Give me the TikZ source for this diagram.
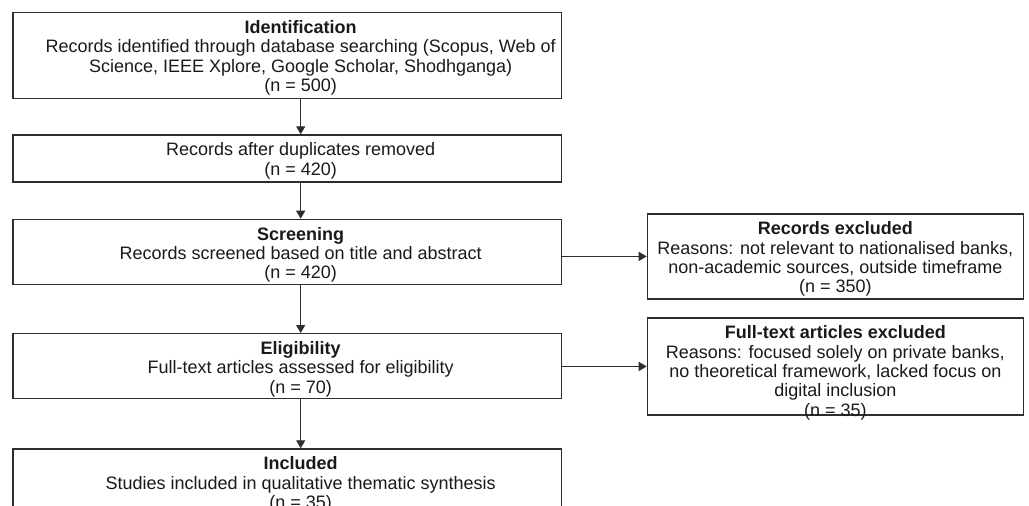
\documentclass[tikz,border=0pt]{standalone}
\usepackage{fontspec}
\setmainfont{Liberation Sans}
\usepackage{tikz}
\usetikzlibrary{arrows.meta, positioning, calc}
\definecolor{boxline}{HTML}{2E2E2E}
\definecolor{boxtext}{HTML}{1A1A1A}

% stacked lines of a stage box, first baseline on top
\newcommand{\stagetext}[1]{\begin{tabular}[t]{@{}c@{}}#1\end{tabular}}
% text of the left column sits a little right of the box centre
\newcommand{\lefttext}[1]{\hspace*{26.7pt}\stagetext{#1}}

\tikzset{
  stage/.style={draw=boxline, line width=1.3pt, inner sep=0pt, anchor=north west,
                text=boxtext, font=\fontsize{18}{19.3}\selectfont, text height=21pt},
  leftbox/.style={stage, minimum width=548.7pt},
  rightbox/.style={stage, minimum width=376pt},
  flow/.style={draw=boxline, line width=1.3pt, -{Triangle[length=8pt, width=9pt]}}
}

\begin{document}
\begin{tikzpicture}[x=1pt, y=-1pt]
  \useasboundingbox (0,0) rectangle (1029,506);
  \clip (0,0) rectangle (1029,506);
  \fill[white] (0,0) rectangle (1029,506);

  % left column
  \node[leftbox, text depth=65pt] (ident) at (12.3,12) {\lefttext{
    \textbf{Identification}\\
    Records identified through database searching (Scopus, Web of\\
    Science, IEEE Xplore, Google Scholar, Shodhganga)\\
    (n = 500)}};
  \node[leftbox, text depth=26pt] (dup) at (12.3,134.3) {\lefttext{
    Records after duplicates removed\\
    (n = 420)}};
  \node[leftbox, text depth=44pt] (screen) at (12.3,218.7) {\lefttext{
    \textbf{Screening}\\
    Records screened based on title and abstract\\
    (n = 420)}};
  \node[leftbox, text depth=44pt] (elig) at (12.3,333) {\lefttext{
    \textbf{Eligibility}\\
    Full-text articles assessed for eligibility\\
    (n = 70)}};
  \node[leftbox, text depth=44pt] (incl) at (12.3,448.3) {\lefttext{
    \textbf{Included}\\
    Studies included in qualitative thematic synthesis\\
    (n = 35)}};

  % right column
  \node[rightbox, text depth=64pt] (recex) at (646.7,213.3) {\stagetext{
    \textbf{Records excluded}\\
    Reasons: not relevant to nationalised banks,\\
    non-academic sources, outside timeframe\\
    (n = 350)}};
  \node[rightbox, text depth=76pt] (ftex) at (646.7,317.3) {\stagetext{
    \textbf{Full-text articles excluded}\\
    Reasons: focused solely on private banks,\\
    no theoretical framework, lacked focus on\\
    digital inclusion\\
    (n = 35)}};

  % arrows
  \coordinate (spine) at (300.7,0);
  \draw[flow] (ident.south -| spine) -- (dup.north -| spine);
  \draw[flow] (dup.south -| spine) -- (screen.north -| spine);
  \draw[flow] (screen.south -| spine) -- (elig.north -| spine);
  \draw[flow] (elig.south -| spine) -- (incl.north -| spine);
  \draw[flow] (screen.east |- recex.west) -- (recex.west);
  \draw[flow] (elig.east |- ftex.west) -- (ftex.west);
\end{tikzpicture}
\end{document}
